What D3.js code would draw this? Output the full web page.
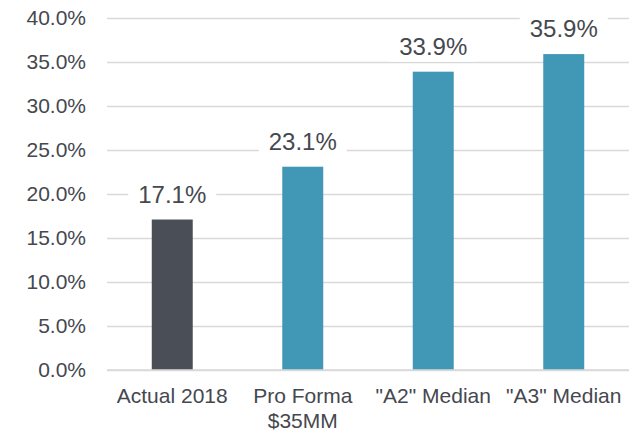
<!DOCTYPE html>
<html>
<head>
<meta charset="utf-8">
<script src="https://cdn.jsdelivr.net/npm/d3@7"></script>
<style>
  body { margin: 0; background: #fff; }
  text { font-family: "Liberation Sans", Arial, sans-serif; fill: #45484e; }
</style>
</head>
<body>
<div class="graph"></div>
<script>
// chart data
const categories = ["Actual 2018", "Pro Forma\n$35MM", "\"A2\" Median", "\"A3\" Median"];
const values = [17.1, 23.1, 33.9, 35.9];
const barColors = ["#4a4f57", "#4197b6", "#4197b6", "#4197b6"];
const yTicks = [0, 5, 10, 15, 20, 25, 30, 35, 40];

const SIZE = {X: 644, Y: 435};
const MARGIN = {TOP: 18, BOTTOM: 65, LEFT: 107, RIGHT: 15};
const DIM = {WIDTH: SIZE.X - MARGIN.LEFT - MARGIN.RIGHT,
             HEIGHT: SIZE.Y - MARGIN.TOP - MARGIN.BOTTOM};

const svg = d3.select(".graph").append("svg")
    .attr("width", SIZE.X)
    .attr("height", SIZE.Y);

const graph = svg.append("g")
    .attr("transform", `translate(${MARGIN.LEFT}, ${MARGIN.TOP})`);

const x = d3.scaleBand()
    .domain(categories)
    .range([0, DIM.WIDTH])
    .paddingInner(0.686)
    .paddingOuter(0.343);

const y = d3.scaleLinear()
    .domain([0, 40])
    .range([DIM.HEIGHT, 0]);

// gridlines + tick labels
const yAxis = graph.append("g")
    .call(d3.axisLeft(y).tickValues(yTicks).tickSize(-DIM.WIDTH).tickPadding(21)
        .tickFormat(d => d.toFixed(1) + "%"));
yAxis.select(".domain").remove();
yAxis.selectAll("line").attr("stroke", "#d9d9d9").attr("stroke-width", 1.3);
yAxis.selectAll("text").style("font-size", "21px").attr("fill", "#45484e");

// bars
graph.selectAll("rect.bar")
    .data(values)
    .enter()
    .append("rect")
        .attr("class", "bar")
        .attr("x", (d, i) => x(categories[i]))
        .attr("y", d => y(d))
        .attr("width", x.bandwidth())
        .attr("height", d => DIM.HEIGHT - y(d))
        .attr("fill", (d, i) => barColors[i]);

// baseline
graph.append("line")
    .attr("x1", 0).attr("x2", DIM.WIDTH)
    .attr("y1", DIM.HEIGHT).attr("y2", DIM.HEIGHT)
    .attr("stroke", "#d9d9d9").attr("stroke-width", 1.3);

// value labels with white boxes
const labels = graph.selectAll("g.vlabel")
    .data(values)
    .enter()
    .append("g")
        .attr("class", "vlabel")
        .attr("transform", (d, i) => `translate(${x(categories[i]) + x.bandwidth() / 2}, ${y(d) - 17})`);

labels.append("rect")
    .attr("x", -44).attr("y", -25)
    .attr("width", 88).attr("height", 32)
    .attr("fill", "#fff");

labels.append("text")
    .attr("text-anchor", "middle")
    .style("font-size", "24px")
    .text(d => d.toFixed(1) + "%");

// category labels
const cats = graph.selectAll("text.cat")
    .data(categories)
    .enter()
    .append("text")
        .attr("class", "cat")
        .attr("text-anchor", "middle")
        .attr("x", d => x(d) + x.bandwidth() / 2)
        .attr("y", DIM.HEIGHT + 33)
        .style("font-size", "21px");

cats.selectAll("tspan")
    .data(d => d.split("\n"))
    .enter()
    .append("tspan")
        .attr("x", function() { return d3.select(this.parentNode).attr("x"); })
        .attr("dy", (d, i) => i === 0 ? 0 : 25)
        .text(d => d);
</script>
</body>
</html>
